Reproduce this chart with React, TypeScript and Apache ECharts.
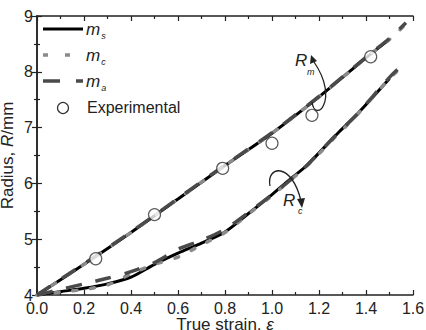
import React, { useEffect, useRef } from "react";
import * as echarts from "echarts";

const xTickLabels = ["0.0", "0.2", "0.4", "0.6", "0.8", "1.0", "1.2", "1.4", "1.6"];
const yTickLabels = ["4", "5", "6", "7", "8", "9"];

// Upper curves (R_m)
const upperX = [0, 0.2, 0.4, 0.6, 0.8, 1.0, 1.2, 1.4, 1.5, 1.57];
const upperMs = [4, 4.55, 5.12, 5.72, 6.32, 6.9, 7.55, 8.25, 8.58, null];
const upperMc = [4, 4.55, 5.12, 5.72, 6.32, 6.9, 7.55, 8.25, 8.58, 8.86];
const upperMa = [4, 4.56, 5.13, 5.73, 6.33, 6.91, 7.56, 8.26, 8.6, 8.88];

// Lower curves (R_c)
const lowerX = [0, 0.1, 0.2, 0.3, 0.4, 0.5, 0.6, 0.7, 0.8, 0.9, 1.0, 1.07, 1.15, 1.28, 1.36, 1.5, 1.57];
const lowerMs = [4, 4.06, 4.12, 4.2, 4.32, 4.55, 4.75, 4.93, 5.13, 5.46, 5.8, 6.05, 6.33, 6.9, 7.23, 7.88, null];
const lowerMc = [4, 4.05, 4.1, 4.18, 4.38, 4.55, 4.68, 4.9, 5.12, 5.45, 5.78, 6.03, 6.32, 6.88, 7.22, 7.88, 8.15];
const lowerMa = [4, 4.1, 4.2, 4.3, 4.42, 4.58, 4.82, 4.98, 5.18, 5.48, 5.8, 6.03, 6.33, 6.9, 7.23, 7.9, 8.18];

// Experimental points
const expX = [0.25, 0.5, 0.79, 1.0, 1.17, 1.42];
const expY = [4.65, 5.44, 6.27, 6.72, 7.22, 8.27];

// Legend entries
const legendNames = ["m_s", "m_c", "m_a", "Experimental"];

const FONT = "Liberation Sans, Arial, sans-serif";

function pairs(xs: number[], ys: (number | null)[]) {
  const out: [number, number][] = [];
  xs.forEach((x, i) => {
    const y = ys[i];
    if (y !== null && y !== undefined) out.push([x, y]);
  });
  return out;
}

export default function App() {
  const ref = useRef<HTMLDivElement>(null);
  useEffect(() => {
    if (!ref.current) return;
    const chart = echarts.init(ref.current, undefined, { renderer: "svg" });

    const msStyle = { color: "#000", width: 3, type: "solid" as const };
    const mcStyle = { color: "#8a8a8a", width: 3.5, type: [4, 14] as any, cap: "round" as const };
    const maStyle = { color: "#4a4a4a", width: 3.5, type: [16, 14] as any };
    const styles: Record<string, any> = { m_s: msStyle, m_c: mcStyle, m_a: maStyle };

    const lineSeries = (name: string, data: [number, number][], ls: any, z: number) => ({
      type: "line",
      name,
      data,
      symbol: "none",
      smooth: 0.3,
      lineStyle: ls,
      itemStyle: { color: ls.color },
      z,
    });

    const axisLine = { show: true, lineStyle: { color: "#222", width: 1.5 } };
    const tick = { show: true, inside: true, length: 5, lineStyle: { color: "#222", width: 1.2 } };
    const minor = { show: true, splitNumber: 2, length: 3, lineStyle: { color: "#222", width: 1.2 } };

    // manual legend
    const legendGraphics: any[] = [];
    const legendRowY = [29, 55, 81, 108];
    legendNames.forEach((name, i) => {
      const y = legendRowY[i];
      if (name.startsWith("m_")) {
        const ls = styles[name];
        legendGraphics.push({
          type: "line",
          shape: { x1: 43, y1: y, x2: 83, y2: y },
          style: {
            stroke: ls.color,
            lineWidth: ls.width,
            lineDash: Array.isArray(ls.type) ? (name === "m_c" ? [5, 17] : [17, 16]) : null,
            lineCap: "butt",
          },
          z: 20,
        });
        legendGraphics.push({
          type: "text",
          left: 86,
          top: y - 10,
          style: {
            text: `{i|m}{s|${name.slice(2)}}`,
            rich: {
              i: { font: `italic 17px ${FONT}`, fill: "#222", lineHeight: 18 },
              s: { font: `italic 9px ${FONT}`, fill: "#222", padding: [12, 0, 0, 1], lineHeight: 18 },
            },
          },
          z: 20,
        });
      } else {
        legendGraphics.push({
          type: "circle",
          shape: { cx: 63, cy: y, r: 5.5 },
          style: { fill: "#fff", stroke: "#333", lineWidth: 1.2 },
          z: 20,
        });
        legendGraphics.push({
          type: "text",
          left: 87,
          top: y - 9,
          style: { text: name, font: `16px ${FONT}`, fill: "#222" },
          z: 20,
        });
      }
    });

    chart.setOption({
      animation: false,
      grid: { left: 37, right: 13, top: 16, bottom: 35, outerBoundsMode: "none", containLabel: false },
      xAxis: [
        {
          type: "value",
          min: 0,
          max: 1.6,
          interval: 0.2,
          position: "bottom",
          axisLine,
          axisTick: tick,
          minorTick: minor,
          splitLine: { show: false },
          axisLabel: {
            formatter: (v: number) => xTickLabels[Math.round(v / 0.2)] ?? "",
            fontFamily: FONT,
            fontSize: 16,
            lineHeight: 15,
            color: "#222",
            margin: 6,
          },
          name: "True strain, {e|ε}",
          nameLocation: "middle",
          nameGap: 21,
          nameMoveOverlap: false,
          nameTextStyle: {
            fontFamily: FONT,
            fontSize: 17,
            lineHeight: 16,
            color: "#222",
            verticalAlign: "top",
            rich: { e: { fontStyle: "italic", fontSize: 17, lineHeight: 16, fontFamily: FONT, color: "#222" } },
          },
        },
        {
          type: "value",
          min: 0,
          max: 1.6,
          interval: 0.2,
          position: "top",
          axisLine,
          axisTick: tick,
          minorTick: minor,
          splitLine: { show: false },
          axisLabel: { show: false },
        },
      ],
      yAxis: [
        {
          type: "value",
          min: 4,
          max: 9,
          interval: 1,
          position: "left",
          axisLine,
          axisTick: tick,
          minorTick: minor,
          splitLine: { show: false },
          axisLabel: {
            formatter: (v: number) => yTickLabels[Math.round(v - 4)] ?? "",
            fontFamily: FONT,
            fontSize: 16,
            lineHeight: 14,
            color: "#222",
            margin: 4,
          },
          name: "Radius, {r|R}/mm",
          nameLocation: "middle",
          nameGap: 21,
          nameMoveOverlap: false,
          nameTextStyle: {
            fontFamily: FONT,
            fontSize: 17,
            color: "#222",
            rich: { r: { fontStyle: "italic", fontSize: 17, fontFamily: FONT, color: "#222" } },
          },
        },
        {
          type: "value",
          min: 4,
          max: 9,
          interval: 1,
          position: "right",
          axisLine,
          axisTick: tick,
          minorTick: minor,
          splitLine: { show: false },
          axisLabel: { show: false },
        },
      ],
      series: [
        lineSeries("m_s", pairs(upperX, upperMs), msStyle, 2),
        lineSeries("m_s", pairs(lowerX, lowerMs), msStyle, 2),
        lineSeries("m_c", pairs(upperX, upperMc), mcStyle, 3),
        lineSeries("m_c", pairs(lowerX, lowerMc), mcStyle, 3),
        lineSeries("m_a", pairs(upperX, upperMa), maStyle, 4),
        lineSeries("m_a", pairs(lowerX, lowerMa), maStyle, 4),
        {
          type: "scatter",
          name: "Experimental",
          data: pairs(expX, expY),
          symbol: "circle",
          symbolSize: 12,
          itemStyle: { color: "#fff", borderColor: "#333", borderWidth: 1.2 },
          z: 6,
        },
      ],
      graphic: [
        ...legendGraphics,
        { type: "text", left: 295, top: 52, style: { text: "R", font: `italic 17px ${FONT}`, fill: "#222" } },
        { type: "text", left: 307, top: 67, style: { text: "m", font: `italic 9px ${FONT}`, fill: "#222" } },
        {
          type: "bezierCurve",
          shape: { x1: 312, y1: 102, cpx1: 315, cpy1: 124, cpx2: 340, cpy2: 100, x2: 314, y2: 62 },
          style: { stroke: "#222", lineWidth: 1.3, fill: null },
          z: 10,
        },
        {
          type: "polygon",
          shape: { points: [[311, 55], [310, 64], [317, 61]] },
          style: { fill: "#222" },
          z: 10,
        },
        { type: "text", left: 283, top: 192, style: { text: "R", font: `italic 17px ${FONT}`, fill: "#222" } },
        { type: "text", left: 298, top: 206, style: { text: "c", font: `italic 9px ${FONT}`, fill: "#222" } },
        {
          type: "bezierCurve",
          shape: { x1: 270, y1: 186, cpx1: 266, cpy1: 165, cpx2: 292, cpy2: 162, x2: 301, y2: 201 },
          style: { stroke: "#222", lineWidth: 1.3, fill: null },
          z: 10,
        },
        {
          type: "polygon",
          shape: { points: [[302, 208], [297, 199], [305, 198]] },
          style: { fill: "#222" },
          z: 10,
        },
      ],
    });
    return () => chart.dispose();
  }, []);
  return (
    <div
      ref={ref}
      style={{ position: "fixed", left: 0, top: 0, width: 426, height: 330, background: "#fff" }}
    />
  );
}
